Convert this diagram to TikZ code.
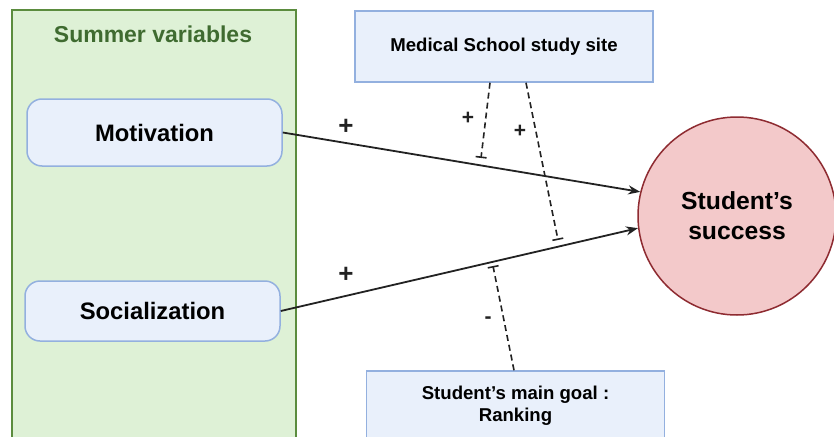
\documentclass[tikz,border=0pt]{standalone}
\usepackage{fontspec}
\setmainfont{Liberation Sans}
\usetikzlibrary{arrows.meta}
\definecolor{grfill}{HTML}{DEF1D6}
\definecolor{grdraw}{HTML}{5B8C3E}
\definecolor{grtext}{HTML}{3F6B30}
\definecolor{blfill}{HTML}{E9F0FB}
\definecolor{bldraw}{HTML}{93B0DF}
\definecolor{rdfill}{HTML}{F3C9CA}
\definecolor{rddraw}{HTML}{8E2B31}
\definecolor{ink}{HTML}{222222}
\tikzset{
  group/.style={draw=grdraw, fill=grfill, line width=1.5pt, minimum width=284pt, minimum height=450pt, inner sep=0pt},
  varbox/.style={draw=bldraw, fill=blfill, line width=1.5pt, rounded corners=15pt, minimum width=255pt, inner sep=0pt, font=\fontsize{23.8}{28}\selectfont\bfseries},
  modbox/.style={draw=bldraw, fill=blfill, line width=1.5pt, minimum width=298pt, inner sep=0pt, align=center, font=\fontsize{18.6}{22}\selectfont\bfseries},
  outcome/.style={circle, draw=rddraw, fill=rdfill, line width=1.5pt, minimum size=198pt, inner sep=0pt, align=center, font=\fontsize{24.7}{30}\selectfont\bfseries},
  effect/.style={ink, line width=1.8pt, -{Stealth[length=12pt,width=9pt]}},
  moder/.style={ink, line width=1.6pt, dash pattern=on 6pt off 4pt, -{Bar[width=11pt,line width=1.6pt]}},
  sign/.style={ink, inner sep=0pt, font=\fontsize{26}{26}\selectfont\bfseries},
  smallsign/.style={ink, inner sep=0pt, font=\fontsize{21}{21}\selectfont\bfseries}
}
\begin{document}
\begin{tikzpicture}[x=1pt,y=-1pt]
\useasboundingbox (0,0) rectangle (834,436);
\clip (0,0) rectangle (834,436);
\fill[white] (0,0) rectangle (834,436);
\node[group] (summer) at (154,235) {};
\node[grtext, font=\fontsize{23}{26}\selectfont\bfseries] (title) at (153,34) {Summer variables};
\node[varbox, minimum height=67pt] (motiv) at (154.5,132.5) {Motivation};
\node[varbox, minimum height=60pt] (social) at (152.5,311) {Socialization};
\node[modbox, minimum height=71pt] (med) at (504,46.5) {Medical School study site};
\node[modbox, minimum height=70pt] (goal) at (515.5,406) {Student's main goal :\\Ranking};
\node[outcome] (succ) at (737,216) {Student's\\success};
\draw[effect] (motiv.east) -- (succ.166.5);
\draw[effect] (social.east) -- (succ.187.5);
\coordinate (m1) at (481,158);
\coordinate (m2) at (558,240);
\coordinate (m3) at (493,266);
\draw[moder] ([xshift=-14pt]med.south) -- (m1);
\draw[moder] ([xshift=22pt]med.south) -- (m2);
\draw[moder] ([xshift=-1.5pt]goal.north) -- (m3);
\node[sign] (p1) at (346,127) {+};
\node[sign] (p2) at (346,275) {+};
\node[smallsign] (p3) at (468,118) {+};
\node[smallsign] (p4) at (520,131) {+};
\node[smallsign] (p5) at (488,320) {-};
\end{tikzpicture}
\end{document}
